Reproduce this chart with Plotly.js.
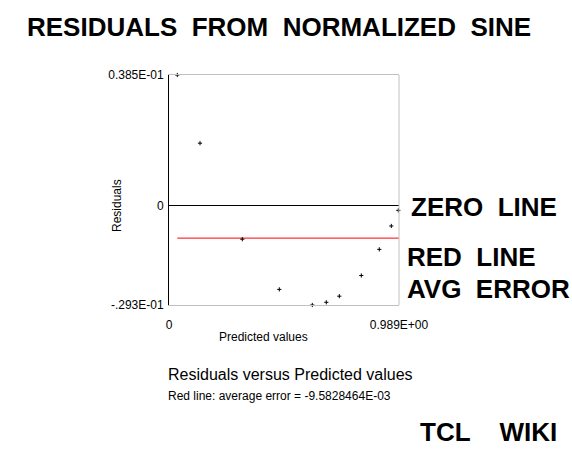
<!DOCTYPE html>
<html>
<head>
<meta charset="utf-8">
<script src="https://cdn.plot.ly/plotly-3.0.1.min.js"></script>
<style>html,body{margin:0;padding:0;background:#fff;}#chart{width:572px;height:452px;}</style>
</head>
<body>
<div id="chart"></div>
<script>
// Data
const predicted = [0.0357, 0.1333, 0.3152, 0.4743, 0.6162, 0.6764, 0.7323, 0.8269, 0.9043, 0.9559, 0.9860];
const residuals = [0.0385, 0.0184, -0.0099, -0.0247, -0.0293, -0.0285, -0.0267, -0.0206, -0.0129, -0.0060, -0.0014];
const averageError = -9.5828464E-03;
const xTickVals = [0, 0.989];
const xTickText = ['0', '0.989E+00'];
const yTickVals = [0.0385, 0, -0.0293];
const yTickText = ['0.385E-01', '0', '-.293E-01'];

const NB = '\u00A0';
const font = 'Liberation Sans, Arial, sans-serif';

const traces = [
  {
    x: [predicted[0], xTickVals[1]],
    y: [averageError, averageError],
    mode: 'lines',
    line: {color: '#ff0000', width: 1},
    hoverinfo: 'skip',
    showlegend: false
  },
  {
    x: predicted,
    y: residuals,
    mode: 'markers',
    marker: {symbol: 'cross-thin', size: 3, color: 'black', line: {width: 1, color: 'black'}},
    cliponaxis: false,
    showlegend: false
  }
];

function ann(text, x, y, size, bold, xanchor, extra) {
  return Object.assign({
    text: bold ? '<b>' + text + '</b>' : text,
    xref: 'paper', yref: 'paper', x: x, y: y,
    xanchor: xanchor || 'center', yanchor: 'middle',
    showarrow: false,
    font: {family: font, size: size, color: 'black'}
  }, extra || {});
}

const layout = {
  width: 572, height: 452,
  margin: {l: 169, r: 173, t: 75, b: 147},
  paper_bgcolor: 'white', plot_bgcolor: 'white',
  showlegend: false,
  xaxis: {
    range: [0, 0.989], tickvals: xTickVals, ticktext: xTickText,
    showgrid: false, zeroline: false, showline: true, mirror: true,
    linecolor: '#c0c0c0', linewidth: 1, ticks: '',
    tickfont: {family: font, size: 12, color: 'black'},
    ticklabelstandoff: 9
  },
  yaxis: {
    range: [-0.0293, 0.0385], tickvals: yTickVals, ticktext: yTickText,
    showgrid: false, zeroline: true, zerolinecolor: 'black', zerolinewidth: 1,
    showline: true, linecolor: 'black', linewidth: 1, ticks: '',
    tickfont: {family: font, size: 12, color: 'black'},
    ticklabelstandoff: 2
  },
  shapes: [
    {type: 'line', xref: 'paper', yref: 'paper', x0: 1, x1: 1, y0: 0, y1: 1,
     line: {color: '#c0c0c0', width: 1}}
  ],
  annotations: [
    ann('RESIDUALS' + NB + NB + 'FROM' + NB + NB + 'NORMALIZED' + NB + NB + 'SINE', 0.4804, 1.2087, 26, true),
    ann('ZERO' + NB + NB + 'LINE', 1.0435, 0.4261, 26, true, 'left'),
    ann('RED' + NB + NB + 'LINE', 1.0261, 0.2087, 26, true, 'left'),
    ann('AVG' + NB + NB + 'ERROR', 1.0261, 0.0696, 26, true, 'left'),
    ann('TCL' + NB + NB + NB + NB + 'WIKI', 1.0827, -0.5522, 26, true, 'left'),
    ann('Predicted values', 0.4087, -0.1391, 12, false),
    ann('Residuals', -0.2261, 0.4348, 12, false, 'center', {textangle: -90}),
    ann('Residuals versus Predicted values', -0.013, -0.3043, 16, false, 'left'),
    ann('Red line: average error = -9.5828464E-03', -0.013, -0.3957, 12, false, 'left')
  ]
};

Plotly.newPlot('chart', traces, layout, {staticPlot: true, displayModeBar: false});
</script>
</body>
</html>
